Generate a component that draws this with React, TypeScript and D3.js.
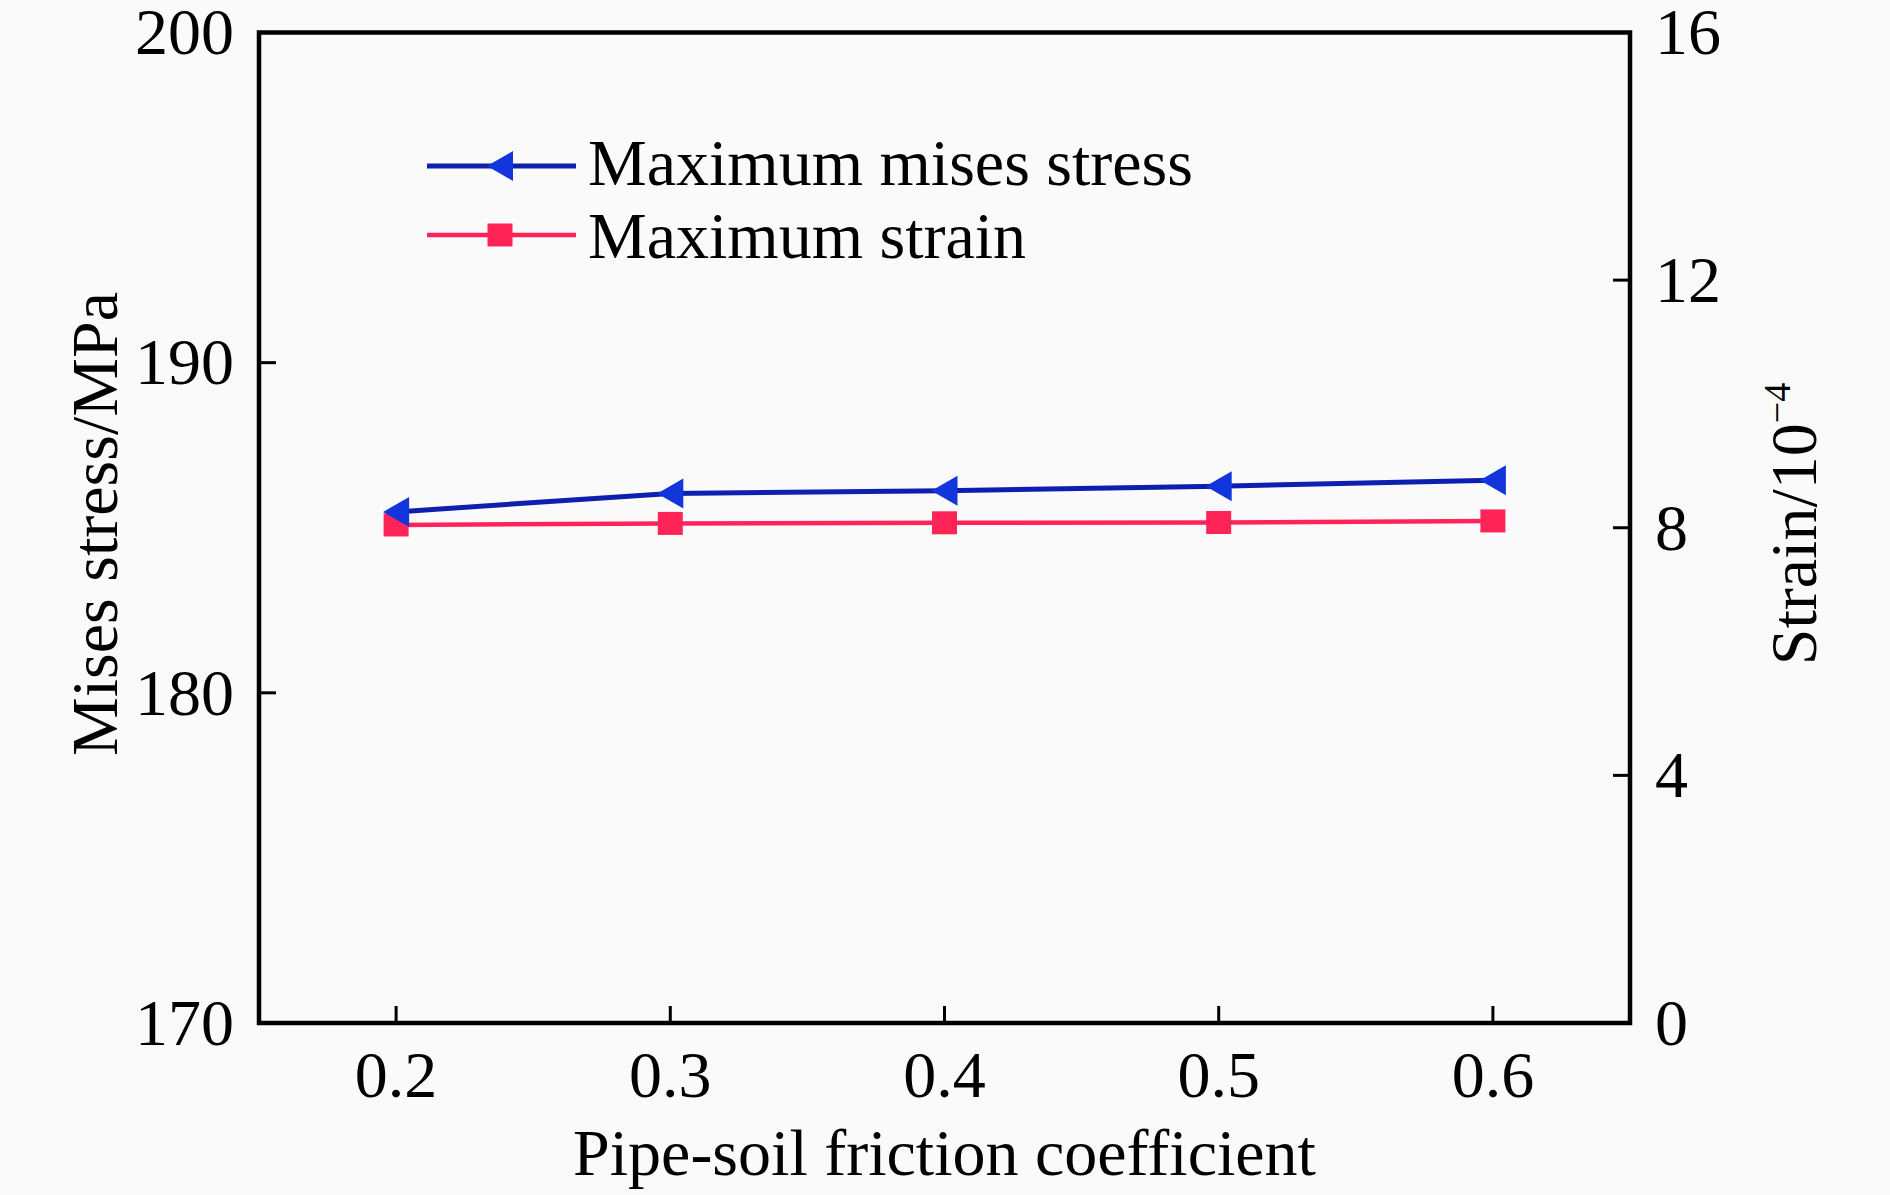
import React from "react";
import * as d3 from "d3";

// ---- Data ----
const frictionCoefficients: number[] = [0.2, 0.3, 0.4, 0.5, 0.6];
const maxMisesStress: number[] = [185.48, 186.04, 186.12, 186.26, 186.44];
const maxStrain: number[] = [8.045, 8.07, 8.08, 8.085, 8.11];

const xTickValues: number[] = [0.2, 0.3, 0.4, 0.5, 0.6];
const leftTickValues: number[] = [170, 180, 190, 200];
const rightTickValues: number[] = [0, 4, 8, 12, 16];

const seriesNames: string[] = ["Maximum mises stress", "Maximum strain"];
const xTitle = "Pipe-soil friction coefficient";
const leftTitle = "Mises stress/MPa";
const rightTitleMain = "Strain/10";
const rightTitleSup = "\u22124";

// ---- Layout ----
const W = 1890;
const H = 1195;
const PL = 259;
const PR = 1630;
const PT = 32.5;
const PB = 1023;
const FONT = "'Liberation Serif', 'Times New Roman', Times, serif";
const FS = 66;
const TICK = 17;

const BLUE_LINE = "#0d1fae";
const BLUE_MARK = "#1236dc";
const PINK = "#ff2458";

export default function App() {
  const x = d3.scaleLinear().domain([0.15, 0.65]).range([PL, PR]);
  const yL = d3.scaleLinear().domain([170, 200]).range([PB, PT]);
  const yR = d3.scaleLinear().domain([0, 16]).range([PB, PT]);

  const stressPts: [number, number][] = frictionCoefficients.map((c, i) => [x(c), yL(maxMisesStress[i])]);
  const strainPts: [number, number][] = frictionCoefficients.map((c, i) => [x(c), yR(maxStrain[i])]);
  const line = d3.line<[number, number]>().x((d) => d[0]).y((d) => d[1]);

  const tri = "M -13,0 L 13,-15 L 13,15 Z";

  const legendY = [166, 235];
  const legendX0 = 427;
  const legendX1 = 576;
  const legendMx = 500;

  return (
    <div style={{ position: "absolute", left: 0, top: 0 }}>
      <svg width={W} height={H} viewBox={`0 0 ${W} ${H}`} style={{ display: "block" }}>
        <rect x={0} y={0} width={W} height={H} fill="#fafafa" />

        {/* series */}
        <path d={line(strainPts) || ""} fill="none" stroke={PINK} strokeWidth={4.5} />
        {strainPts.map((p, i) => (
          <rect key={"s" + i} x={p[0] - 12.5} y={p[1] - 11.5} width={25} height={23} fill={PINK} />
        ))}
        <path d={line(stressPts) || ""} fill="none" stroke={BLUE_LINE} strokeWidth={5} />
        {stressPts.map((p, i) => (
          <path key={"t" + i} d={tri} transform={`translate(${p[0]},${p[1]})`} fill={BLUE_MARK} />
        ))}

        {/* frame */}
        <rect x={PL} y={PT} width={PR - PL} height={PB - PT} fill="none" stroke="#000" strokeWidth={4.5} />

        {/* bottom ticks */}
        {xTickValues.map((v) => (
          <g key={"xt" + v}>
            <line x1={x(v)} x2={x(v)} y1={PB} y2={PB - TICK} stroke="#000" strokeWidth={3} />
            <text x={x(v)} y={1097} textAnchor="middle" fontFamily={FONT} fontSize={FS} fill="#000">
              {d3.format(".1f")(v)}
            </text>
          </g>
        ))}

        {/* left ticks */}
        {leftTickValues.map((v) => (
          <g key={"lt" + v}>
            {v !== 170 && v !== 200 && (
              <line x1={PL} x2={PL + TICK} y1={yL(v)} y2={yL(v)} stroke="#000" strokeWidth={3} />
            )}
            <text x={234} y={yL(v)} dy="0.33em" textAnchor="end" fontFamily={FONT} fontSize={FS} fill="#000">
              {v}
            </text>
          </g>
        ))}

        {/* right ticks */}
        {rightTickValues.map((v) => (
          <g key={"rt" + v}>
            {v !== 0 && v !== 16 && (
              <line x1={PR} x2={PR - TICK} y1={yR(v)} y2={yR(v)} stroke="#000" strokeWidth={3} />
            )}
            <text x={1655} y={yR(v)} dy="0.33em" textAnchor="start" fontFamily={FONT} fontSize={FS} fill="#000">
              {v}
            </text>
          </g>
        ))}

        {/* axis titles */}
        <text x={(PL + PR) / 2} y={1175} textAnchor="middle" fontFamily={FONT} fontSize={FS} fill="#000">
          {xTitle}
        </text>
        <text
          transform={`translate(117,524) rotate(-90)`}
          textAnchor="middle"
          fontFamily={FONT}
          fontSize={FS}
          fill="#000"
        >
          {leftTitle}
        </text>
        <text
          transform={`translate(1816,524) rotate(-90)`}
          textAnchor="middle"
          fontFamily={FONT}
          fontSize={FS}
          fill="#000"
        >
          <tspan>{rightTitleMain}</tspan>
          <tspan fontSize={38} dy={-26}>
            {rightTitleSup}
          </tspan>
        </text>

        {/* legend */}
        <g>
          <line x1={legendX0} x2={legendX1} y1={legendY[0]} y2={legendY[0]} stroke={BLUE_LINE} strokeWidth={5} />
          <path d={tri} transform={`translate(${legendMx},${legendY[0]})`} fill={BLUE_MARK} />
          <text x={588} y={185} fontFamily={FONT} fontSize={FS} fill="#000">
            {seriesNames[0]}
          </text>
          <line x1={legendX0} x2={legendX1} y1={legendY[1]} y2={legendY[1]} stroke={PINK} strokeWidth={4.5} />
          <rect x={legendMx - 12.5} y={legendY[1] - 11.5} width={25} height={23} fill={PINK} />
          <text x={588} y={258} fontFamily={FONT} fontSize={FS} fill="#000">
            {seriesNames[1]}
          </text>
        </g>
      </svg>
    </div>
  );
}
